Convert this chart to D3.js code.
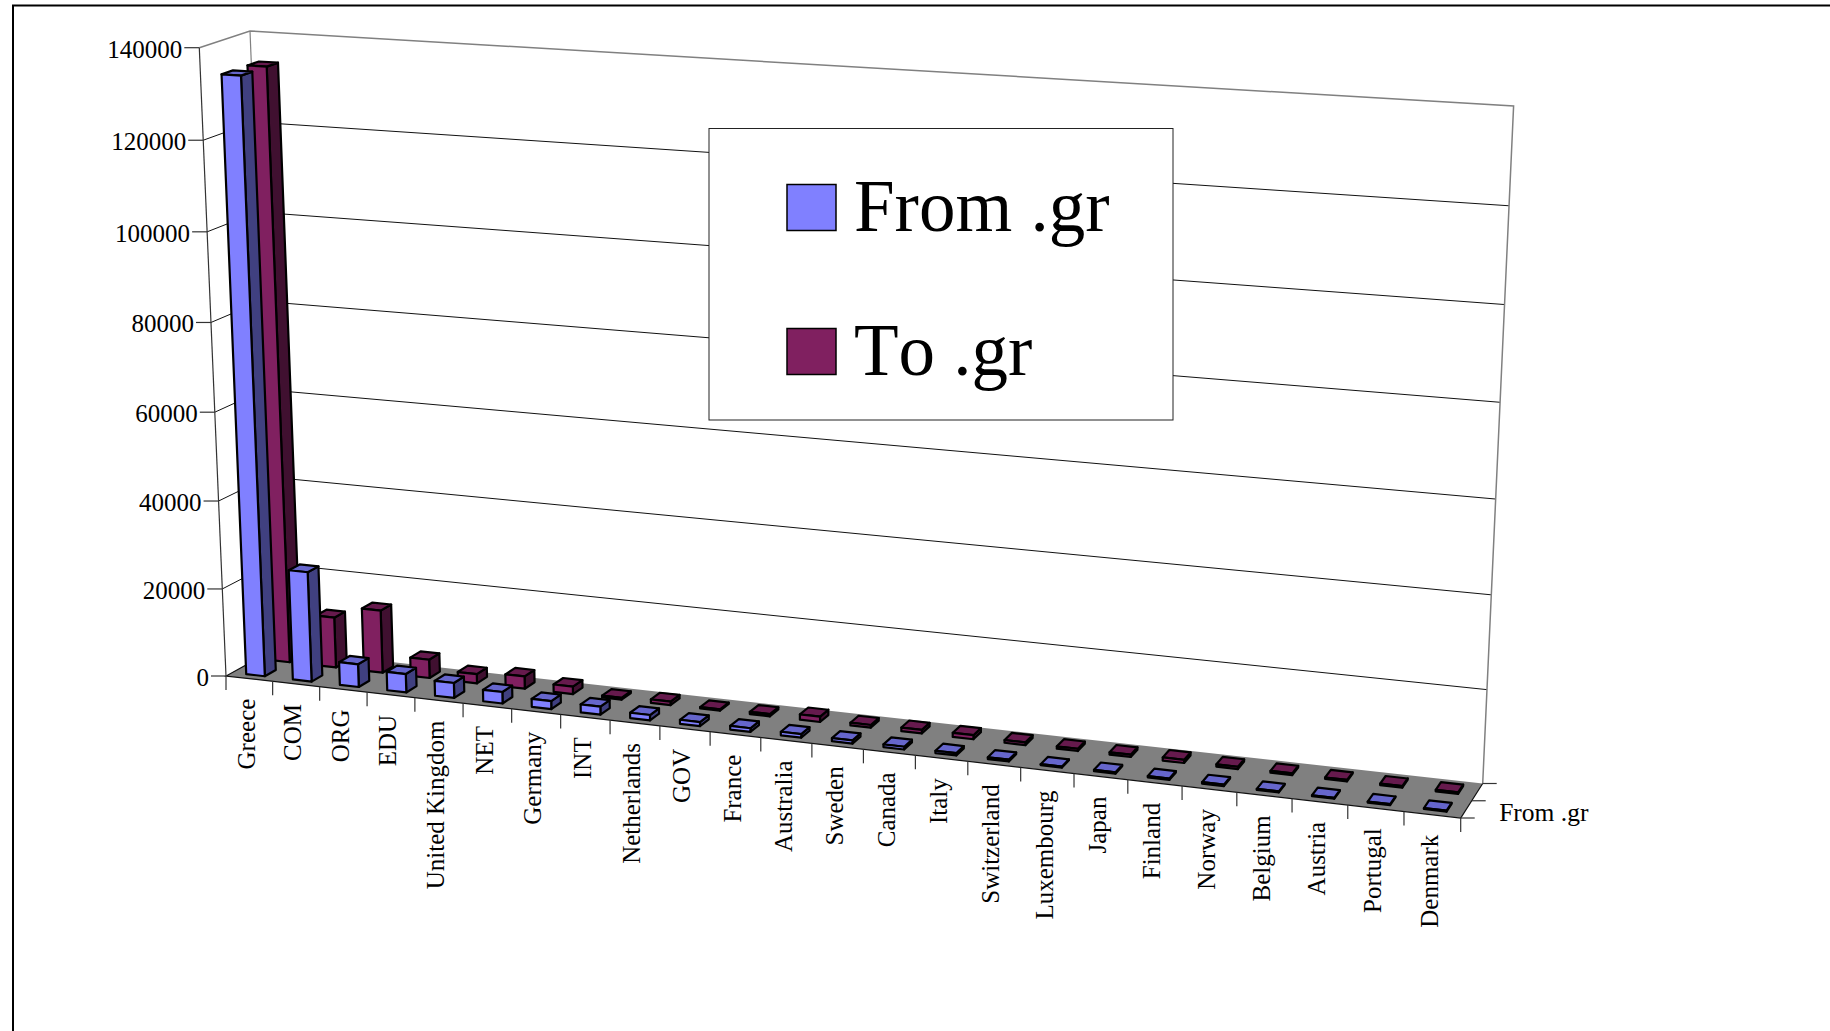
<!DOCTYPE html>
<html>
<head>
<meta charset="utf-8">
<script src="https://cdn.jsdelivr.net/npm/d3@7/dist/d3.min.js"></script>
<style>
html,body{margin:0;padding:0;background:#fff;overflow:hidden}
svg{display:block}
text{font-family:"Liberation Serif","Times New Roman",serif;fill:#000;font-kerning:none}
</style>
</head>
<body>
<svg id="chart" width="1830" height="1031"></svg>
<script>
// Traffic by domain, shown as a two-row 3D column chart.
const categories = ["Greece","COM","ORG","EDU","United Kingdom","NET","Germany","INT","Netherlands","GOV","France","Australia","Sweden","Canada","Italy","Switzerland","Luxembourg","Japan","Finland","Norway","Belgium","Austria","Portugal","Denmark"];
const fromGr = [134000,25000,5200,4200,3400,2600,1800,1800,1200,900,800,800,700,600,500,400,200,300,300,300,200,200,200,200];
const toGr = [134000,11500,14300,4200,2100,2800,1700,400,800,300,500,1200,600,800,900,600,500,500,700,500,400,300,300,300];
const seriesNames = ["From .gr","To .gr"];
const yTicks = [0,20000,40000,60000,80000,100000,120000,140000];
const seriesColors = {
  "From .gr": {front:"#8080ff", side:"#404080", top:"#6666cc"},
  "To .gr":   {front:"#802060", side:"#401030", top:"#661a4d"}
};

// Screen corners of the chart box, floor and ceiling.
const floorCorners = {fl:[226,676], fr:[1460.7,818], br:[1482.7,783.5], bl:[275,649]};
const ceilCorners  = {fl:[199.3,47.7], fr:[1492,131], br:[1513.6,106], bl:[250,31]};

// Foreshortening along the category and height directions.
const foreshorten = k => t => k*t/(1+(k-1)*t);
const alongX = foreshorten(0.903), alongY = foreshorten(0.965);

const mix=(a,b,t)=>[a[0]+(b[0]-a[0])*t, a[1]+(b[1]-a[1])*t];
function planePoint(c,u,d){
  return mix(mix(c.fl,c.fr,u),mix(c.bl,c.br,u),d);
}
function project(u,h,d){
  const U=alongX(u);
  return mix(planePoint(floorCorners,U,d),planePoint(ceilCorners,U,d),alongY(h));
}

const xBand=d3.scaleBand().domain(categories).range([0,1]).paddingInner(0.6).paddingOuter(0.3);
const rowBand=d3.scaleBand().domain(seriesNames).range([0,1]).paddingInner(0.56).paddingOuter(0.25);
const yScale=d3.scaleLinear().domain([0,140000]).range([0,1]);
const tickU=d3.range(categories.length+1).map(i=>i/categories.length);
const line=d3.line();

const svg=d3.select("#chart");

// Outer frame runs off the right and bottom of the page.
svg.append("rect").attr("x",13).attr("y",5.5).attr("width",2400).attr("height",2400)
  .attr("fill","#fff").attr("stroke","#000").attr("stroke-width",2);

const walls=svg.append("g").attr("fill","none");
// Gridlines on the side and back walls.
yTicks.slice(1,-1).forEach(v=>{
  const h=yScale(v);
  walls.append("path").attr("d",line([project(0,h,0),project(0,h,1),project(1,h,1)]))
    .attr("stroke","#111").attr("stroke-width",1);
});
// Wall outlines.
walls.append("path").attr("d",line([project(0,1,0),project(0,1,1),project(1,1,1),project(1,0,1)]))
  .attr("stroke","#808080").attr("stroke-width",1.5);
walls.append("path").attr("d",line([project(0,1,1),project(0,0,1)]))
  .attr("stroke","#808080").attr("stroke-width",1.2);

// Floor.
svg.append("path").attr("d",line([project(0,0,0),project(1,0,0),project(1,0,1),project(0,0,1)])+"Z")
  .attr("fill","#808080");
svg.append("path").attr("d",line([project(0,0,1),project(0,0,0),project(1,0,0),project(1,0,1)]))
  .attr("fill","none").attr("stroke","#111").attr("stroke-width",1.2);

// Value axis along the front left edge.
const yAxis=svg.append("g");
yAxis.append("path").attr("d",line([project(0,0,0),project(0,1,0)])).attr("stroke","#333").attr("fill","none").attr("stroke-width",1.2);
yTicks.forEach(v=>{
  const p=project(0,yScale(v),0);
  yAxis.append("line").attr("x1",p[0]-15).attr("x2",p[0]).attr("y1",p[1]).attr("y2",p[1]).attr("stroke","#333").attr("stroke-width",1.2);
  yAxis.append("text").attr("x",p[0]-17).attr("y",p[1]+10).attr("text-anchor","end").attr("font-size",25).text(v);
});

// Category axis: ticks and rotated names.
const xAxis=svg.append("g");
tickU.forEach(u=>{
  const p=project(u,0,0);
  xAxis.append("line").attr("x1",p[0]).attr("x2",p[0]).attr("y1",p[1]).attr("y2",p[1]+14).attr("stroke","#333").attr("stroke-width",1.2);
});
categories.forEach(c=>{
  const p=project(xBand(c)+xBand.bandwidth()/2,0,0);
  xAxis.append("text").attr("text-anchor","end").attr("font-size",25)
    .attr("transform",`translate(${p[0]-3.5},${p[1]+20}) rotate(-90)`)
    .attr("dy","0.35em").text(c);
});

// Depth axis at the right end of the floor.
const zAxis=svg.append("g");
[0,0.5,1].forEach(d=>{
  const p=project(1,0,d);
  zAxis.append("line").attr("x1",p[0]).attr("x2",p[0]+14).attr("y1",p[1]).attr("y2",p[1]).attr("stroke","#333").attr("stroke-width",1.2);
});
const zLabel=project(1,0,0.25);
zAxis.append("text").attr("x",zLabel[0]+33).attr("y",zLabel[1]+12).attr("font-size",25.5).text(seriesNames[0]);

// Columns, back row first and left to right within a row.
const rows=[{name:seriesNames[1],values:toGr},{name:seriesNames[0],values:fromGr}];
const bars=svg.append("g").attr("stroke","#000").attr("stroke-width",2.2).attr("stroke-linejoin","round");
rows.forEach(row=>{
  const col=seriesColors[row.name];
  const d0=rowBand(row.name), d1=d0+rowBand.bandwidth();
  const g=bars.append("g");
  categories.forEach((c,i)=>{
    const u0=xBand(c), u1=u0+xBand.bandwidth(), h=yScale(row.values[i]);
    const face=(pts,fill)=>g.append("path").attr("d",line(pts.map(q=>project(...q)))+"Z").attr("fill",fill);
    face([[u1,0,d0],[u1,0,d1],[u1,h,d1],[u1,h,d0]],col.side);
    face([[u0,h,d0],[u1,h,d0],[u1,h,d1],[u0,h,d1]],col.top);
    face([[u0,0,d0],[u1,0,d0],[u1,h,d0],[u0,h,d0]],col.front);
  });
});

// Legend.
const legend=svg.append("g");
legend.append("rect").attr("x",709).attr("y",128.5).attr("width",464).attr("height",291.5)
  .attr("fill","#fff").attr("stroke","#222").attr("stroke-width",1);
seriesNames.forEach((name,i)=>{
  const top=184.5+i*144;
  legend.append("rect").attr("x",787).attr("y",top).attr("width",49).attr("height",46)
    .attr("fill",seriesColors[name].front).attr("stroke","#000").attr("stroke-width",1.5);
  legend.append("text").attr("x",854).attr("y",top+46).attr("font-size",73).text(name);
});
</script>
</body>
</html>
